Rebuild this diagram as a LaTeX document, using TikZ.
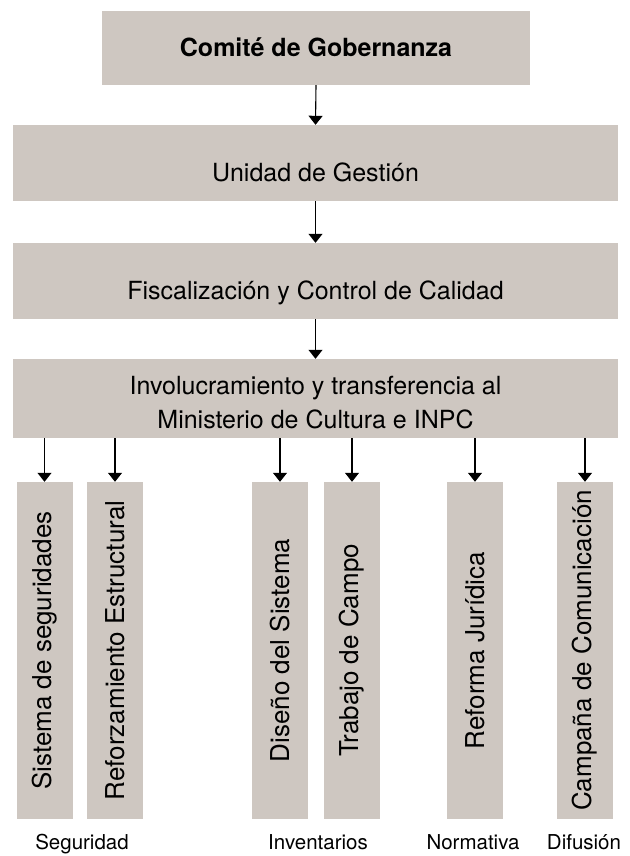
\documentclass[tikz,border=0pt]{standalone}
\usepackage{fontspec}
\setmainfont{TeX Gyre Heros}
\usetikzlibrary{arrows.meta}
\definecolor{boxgray}{RGB}{206,199,193}
\begin{document}
\begin{tikzpicture}[x=1pt,y=-1pt,
  hbox/.style={fill=boxgray, draw=none, inner sep=0pt},
  htext/.style={inner sep=0pt, align=center, font=\fontsize{25}{34}\selectfont},
  vbox/.style={fill=boxgray, draw=none, inner sep=0pt, minimum width=56pt, minimum height=337pt},
  vtext/.style={rotate=90, inner sep=0pt, font=\fontsize{26}{30}\selectfont},
  conn/.style={line width=1.1pt, -{Triangle[width=14pt,length=9pt]}},
  lab/.style={inner sep=0pt, anchor=base, font=\fontsize{20.5}{24}\selectfont}]
\useasboundingbox (0,0) rectangle (629,856);

\node[hbox, minimum width=428pt, minimum height=74pt] (gob) at (316,48) {};
\node[hbox, minimum width=605pt, minimum height=76pt] (uni) at (315.5,163) {};
\node[hbox, minimum width=605pt, minimum height=76pt] (fis) at (315.5,281) {};
\node[hbox, minimum width=605pt, minimum height=79pt] (inv) at (315.5,398.5) {};

\node[htext, anchor=base] (gobt) at (316,57) {\textbf{Comité de Gobernanza}};
\node[htext, anchor=base] (unit) at (315.5,181) {Unidad de Gestión};
\node[htext, anchor=base] (fist) at (315.5,299) {Fiscalización y Control de Calidad};
\node[htext] (invt) at (315.5,403) {Involucramiento y transferencia al\\Ministerio de Cultura e INPC};

\draw[conn] (gob.south) -- (uni.north);
\draw[conn] (uni.south) -- (fis.north);
\draw[conn] (fis.south) -- (inv.north);

\node[vbox] (b1) at (44.5,650.5) {};
\node[vbox] (b2) at (115,650.5) {};
\node[vbox] (b3) at (280,650.5) {};
\node[vbox] (b4) at (352,650.5) {};
\node[vbox] (b5) at (475,650.5) {};
\node[vbox] (b6) at (585,650.5) {};

\node[vtext] (t1) at (b1) {Sistema de seguridades};
\node[vtext] (t2) at (b2) {Reforzamiento Estructural};
\node[vtext] (t3) at (b3) {Diseño del Sistema};
\node[vtext] (t4) at (b4) {Trabajo de Campo};
\node[vtext] (t5) at (b5) {Reforma Jurídica};
\node[vtext] (t6) at (b6) {Campaña de Comunicación};

\foreach \b in {b1,b2,b3,b4,b5,b6}
  \draw[conn] (inv.south -| \b.north) -- (\b.north);

\node[lab] (l1) at (82,849) {Seguridad};
\node[lab] (l2) at (318,849) {Inventarios};
\node[lab] (l3) at (473,849) {Normativa};
\node[lab] (l4) at (584,849) {Difusión};
\end{tikzpicture}
\end{document}
